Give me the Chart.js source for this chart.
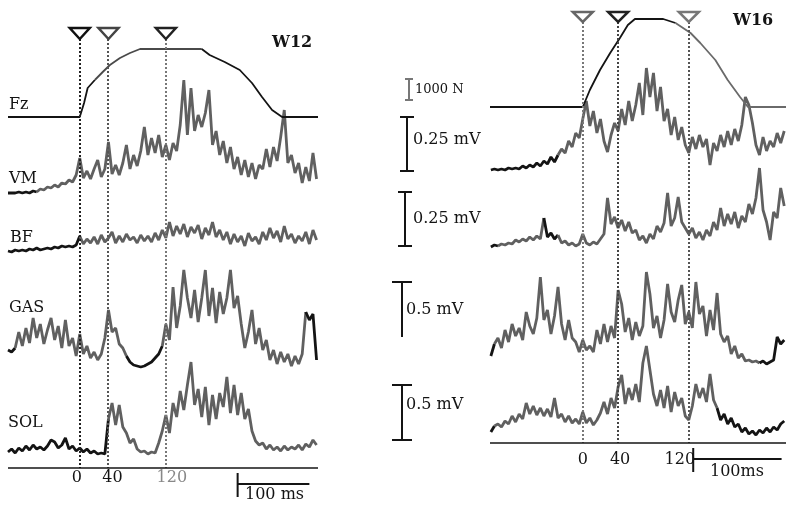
<!DOCTYPE html>
<html>
<head>
<meta charset="utf-8">
<script src="https://cdn.jsdelivr.net/npm/chart.js@4/dist/chart.umd.min.js"></script>
<style>
  html, body { margin: 0; padding: 0; background: #fff; }
  #wrap { position: relative; width: 786px; height: 505px; }
  #wrap canvas { position: absolute; left: 0; top: 0; }
</style>
</head>
<body>
<div id="wrap">
  <canvas id="w12Chart" width="786" height="505"></canvas>
  <canvas id="w16Chart" width="786" height="505"></canvas>
</div>
<script>
// ==============================
// 共通データ
// ==============================
const eventTimes = [0, 40, 120];      // ms
const eventLabels = ["0", "40", "120"];

// ==============================
// W12 データ（5 ms ごと, -100 ms から）
// ==============================
const w12Start = -100;
const w12Step = 5;

const w12FzTime = [-100, 0, 6, 11, 21, 32, 42, 56, 70, 84, 170, 181, 202, 223, 240, 254, 268, 282, 332];
const w12Fz = [0, 0, 14, 29, 37, 45, 52, 59, 64, 68, 68, 62, 55, 47, 34, 20, 7, 0, 0];

const w12VM = [0,0,0,1,0,1,0,2,1,4, 3,6,5,8,6,10,9,13,11,18, 35,15,22,14,24,33,16,24,51,19,
  28,18,30,48,24,38,27,42,66,38, 55,40,58,36,48,33,50,42,68,113, 58,105,62,78,66,80,103,48,62,38,
  52,30,46,24,36,18,33,16,30,14, 28,24,44,26,46,32,56,83,30,38, 20,30,10,26,12,40,14];

const w12BF = [1,0,2,1,2,1,3,2,4,2, 3,4,3,5,4,6,5,6,5,7, 16,8,13,9,15,8,17,10,14,20,
  9,16,10,18,12,15,9,17,11,16, 10,19,12,22,14,30,16,26,18,28, 15,25,19,27,13,24,17,30,15,22,
  12,20,8,18,10,16,6,19,11,15, 8,20,12,24,14,21,10,26,13,18, 9,16,11,20,8,22,12];

const w12GAS = [18,16,20,36,22,40,25,50,30,44, 24,38,50,28,42,20,48,22,30,12, 34,14,22,10,16,8,14,30,58,36,
  40,24,20,12,6,3,2,1,2,4, 6,10,14,22,44,28,81,40,62,98, 70,50,78,46,70,98,52,80,45,76,
  54,70,98,60,72,44,20,36,58,24, 40,18,28,8,18,4,16,6,14,2, 12,4,14,56,48,54,8];

const w12SOL = [3,6,2,7,4,9,5,10,6,8, 5,9,15,13,7,10,17,6,9,4, 7,3,6,2,4,1,2,1,36,52,
  30,50,28,22,12,16,6,3,4,1, 3,2,12,24,40,22,52,38,64,45, 70,93,50,66,38,68,30,60,36,62,
  48,78,42,70,40,62,36,46,24,14, 10,12,6,10,5,8,4,9,5,8, 6,10,5,11,8,15,10];

// ==============================
// W16 データ（4 ms ごと, -104 ms から）
// ==============================
const w16Start = -104;
const w16Step = 4;

const w16FzTime = [-105, 0, 8, 19.5, 31, 42, 51, 59, 91, 105, 122, 133, 150, 164, 178, 187, 230];
const w16Fz = [0, 0, 17, 37, 54, 69, 82, 88, 88, 84, 74, 64, 47, 27, 10, 0, 0];

const w16VM = [1,2,1,2,1,3,2,3,2,5, 3,6,4,8,5,10,7,14,9,16, 22,18,30,24,38,33,52,70,45,60,
  38,52,30,19,36,48,40,62,46,70, 50,66,88,56,103,74,98,60,84,50, 62,36,54,31,44,26,18,34,22,36,
  24,32,6,28,20,36,24,40,26,42, 30,46,74,66,48,26,16,34,20,30, 24,38,28,40];

const w16BF = [1,3,2,4,3,5,4,8,6,9, 7,11,8,12,9,30,11,15,9,13, 5,7,3,5,2,4,14,5,3,6,
  4,9,14,50,24,31,20,28,17,26, 15,18,8,12,5,14,9,22,16,25, 55,22,30,51,26,20,14,20,10,16,
  8,18,12,26,18,40,22,34,24,36, 20,32,26,44,34,50,80,38,26,8, 36,30,60,42];

const w16GAS = [8,20,26,16,34,22,40,28,36,24, 52,38,30,46,87,44,54,30,48,77, 40,24,44,26,22,12,24,14,18,12,
  34,20,40,22,38,26,74,60,32,46, 24,42,28,38,92,70,36,48,26,44, 80,52,42,64,79,40,52,36,82,50,
  58,28,54,34,71,30,22,28,10,18, 6,10,3,4,2,3,1,3,0,2, 4,27,20,24];

const w16SOL = [4,10,12,9,15,12,20,14,22,17, 33,22,30,21,28,20,27,19,38,18, 22,14,20,13,17,12,24,13,18,11,
  16,23,34,22,38,28,49,61,32,48, 36,52,34,73,90,66,42,30,46,28, 50,24,44,30,38,20,16,30,52,38,
  48,34,62,36,28,16,22,12,18,9, 12,4,8,2,5,1,6,3,8,4, 9,6,12,15];

// ==============================
// 見た目
// ==============================
const GRAY = "#606060";
const BLACK = "#141414";
const FONT = "DejaVu Serif";
const EMG_WIDTH = 2.8;

// ==============================
// ヘルパー
// ==============================
function sampled(start, step, values, base) {
  return values.map((v, i) => ({ x: start + i * step, y: base - v }));
}

function paired(times, values, base) {
  return times.map((t, i) => ({ x: t, y: base - values[i] }));
}

function inRanges(x, ranges) {
  return ranges.some(r => x >= r[0] && x < r[1]);
}

function trace(data, color, blackRanges, width) {
  return {
    data,
    borderColor: color,
    borderWidth: width,
    borderJoinStyle: "bevel",
    pointRadius: 0,
    tension: 0,
    clip: false,
    segment: {
      borderColor: ctx => inRanges(ctx.p0.parsed.x, blackRanges) ? BLACK : color
    }
  };
}

// ==============================
// 注記プラグイン（三角・点線・軸・スケール）
// ==============================
const panelDeco = {
  id: "panelDeco",
  afterDatasetsDraw(chart, args, o) {
    const ctx = chart.ctx;
    const xs = chart.scales.x;
    ctx.save();

    // 点線
    ctx.lineWidth = 2;
    ctx.setLineDash([2, 2]);
    eventTimes.forEach((t, i) => {
      const px = Math.round(xs.getPixelForValue(t));
      ctx.strokeStyle = o.lineColors[i];
      ctx.beginPath();
      ctx.moveTo(px, o.triTip);
      ctx.lineTo(px, o.axisY);
      ctx.stroke();
    });
    ctx.setLineDash([]);

    // 三角マーカー
    ctx.lineWidth = 2.5;
    eventTimes.forEach((t, i) => {
      const px = xs.getPixelForValue(t);
      ctx.strokeStyle = o.triColors[i];
      ctx.fillStyle = "#fff";
      ctx.beginPath();
      ctx.moveTo(px - 10, o.triTop);
      ctx.lineTo(px + 10, o.triTop);
      ctx.lineTo(px, o.triTip);
      ctx.closePath();
      ctx.fill();
      ctx.stroke();
    });

    // 時間軸
    ctx.strokeStyle = BLACK;
    ctx.lineWidth = 1.6;
    ctx.beginPath();
    ctx.moveTo(chart.chartArea.left, o.axisY);
    ctx.lineTo(chart.chartArea.right, o.axisY);
    ctx.stroke();

    ctx.font = "16px " + FONT;
    ctx.textAlign = "center";
    ctx.textBaseline = "middle";
    eventTimes.forEach((t, i) => {
      ctx.fillStyle = o.tickColors[i];
      ctx.fillText(eventLabels[i], xs.getPixelForValue(t) + o.tickShift[i], o.tickY);
    });

    // 100 ms スケール
    const tb = o.timeBar;
    const x0 = xs.getPixelForValue(tb.t);
    const x1 = xs.getPixelForValue(tb.t + 100);
    ctx.lineWidth = 2;
    ctx.beginPath();
    ctx.moveTo(x0, tb.top);
    ctx.lineTo(x0, tb.bottom);
    ctx.moveTo(x0, tb.y);
    ctx.lineTo(x1, tb.y);
    ctx.stroke();
    ctx.fillStyle = BLACK;
    ctx.textAlign = "left";
    ctx.fillText(tb.label, tb.lx, tb.ly);

    // 振幅スケール
    (o.bars || []).forEach(b => {
      ctx.strokeStyle = b.color || BLACK;
      ctx.lineWidth = 2;
      ctx.beginPath();
      ctx.moveTo(b.x, b.y1);
      ctx.lineTo(b.x, b.y2);
      ctx.moveTo(b.x - b.hw, b.y1);
      ctx.lineTo(b.x + b.hw, b.y1);
      if (b.caps !== "top") {
        ctx.moveTo(b.x - b.hw, b.y2);
        ctx.lineTo(b.x + b.hw, b.y2);
      }
      ctx.stroke();
    });

    // テキスト
    o.texts.forEach(t => {
      ctx.font = (t.bold ? "bold " : "") + (t.size || 16) + "px " + FONT;
      ctx.fillStyle = t.color || BLACK;
      ctx.textAlign = "left";
      ctx.textBaseline = "middle";
      ctx.fillText(t.text, t.x, t.y);
    });

    ctx.restore();
  }
};

function makePanel(id, xMin, xMax, padLeft, padRight, datasets, deco) {
  return new Chart(document.getElementById(id), {
    type: "line",
    data: { datasets },
    options: {
      responsive: false,
      animation: false,
      events: [],
      layout: { padding: { left: padLeft, right: padRight, top: 0, bottom: 0 } },
      scales: {
        x: { type: "linear", min: xMin, max: xMax, display: false },
        y: { type: "linear", min: 0, max: 505, reverse: true, display: false }
      },
      plugins: {
        legend: { display: false },
        tooltip: { enabled: false },
        panelDeco: deco
      }
    },
    plugins: [panelDeco]
  });
}

// ==============================
// W12
// ==============================
makePanel("w12Chart", -100, 332, 8, 468, [
  trace(paired(w12FzTime, w12Fz, 117), "#4a4a4a", [[-200, 18], [165, 400]], 1.8),
  trace(sampled(w12Start, w12Step, w12VM, 193), GRAY, [[-200, -62]], EMG_WIDTH),
  trace(sampled(w12Start, w12Step, w12BF, 252), GRAY, [[-200, 0]], EMG_WIDTH),
  trace(sampled(w12Start, w12Step, w12GAS, 368), GRAY, [[-200, -92], [62, 112], [312, 326]], EMG_WIDTH),
  trace(sampled(w12Start, w12Step, w12SOL, 455), GRAY, [[-200, 40]], EMG_WIDTH)
], {
  triTop: 28, triTip: 39, axisY: 468, tickY: 478,
  triColors: ["#111", "#444", "#222"],
  lineColors: ["#222", "#555", "#777"],
  tickColors: [BLACK, BLACK, "#888"],
  tickShift: [-3, 4, 6],
  timeBar: { t: 220, y: 484, top: 473, bottom: 497, label: "100 ms", lx: 245, ly: 495 },
  texts: [
    { text: "Fz", x: 9, y: 105 },
    { text: "VM", x: 9, y: 179 },
    { text: "BF", x: 10, y: 238 },
    { text: "GAS", x: 9, y: 308 },
    { text: "SOL", x: 8, y: 423 },
    { text: "W12", x: 272, y: 43, bold: true }
  ]
});

// ==============================
// W16
// ==============================
makePanel("w16Chart", -105, 230, 490, 0, [
  trace(paired(w16FzTime, w16Fz, 107), "#6a6a6a", [[-200, 95]], 1.8),
  trace(sampled(w16Start, w16Step, w16VM, 171), GRAY, [[-200, -30]], EMG_WIDTH),
  trace(sampled(w16Start, w16Step, w16BF, 248), GRAY, [[-200, -98], [-44, -30]], EMG_WIDTH),
  trace(sampled(w16Start, w16Step, w16GAS, 364), GRAY, [[-200, -100], [200, 240]], EMG_WIDTH),
  trace(sampled(w16Start, w16Step, w16SOL, 436), GRAY, [[-200, -100], [150, 240]], EMG_WIDTH)
], {
  triTop: 12, triTip: 22, axisY: 443, tickY: 460,
  triColors: ["#666", "#222", "#777"],
  lineColors: ["#777", "#444", "#555"],
  tickColors: [BLACK, BLACK, BLACK],
  tickShift: [0, 2, -9],
  timeBar: { t: 125, y: 459, top: 448, bottom: 472, label: "100ms", lx: 710, ly: 472 },
  bars: [
    { x: 409, y1: 79, y2: 100, hw: 4, color: "#777" },
    { x: 407, y1: 117, y2: 171, hw: 7 },
    { x: 405, y1: 192, y2: 246, hw: 7 },
    { x: 402, y1: 282, y2: 337, hw: 10, caps: "top" },
    { x: 402, y1: 385, y2: 440, hw: 10 }
  ],
  texts: [
    { text: "W16", x: 733, y: 21, bold: true },
    { text: "1000 N", x: 415, y: 90, size: 13 },
    { text: "0.25 mV", x: 413, y: 140 },
    { text: "0.25 mV", x: 413, y: 219 },
    { text: "0.5 mV", x: 406, y: 310 },
    { text: "0.5 mV", x: 406, y: 405 }
  ]
});
</script>
</body>
</html>
